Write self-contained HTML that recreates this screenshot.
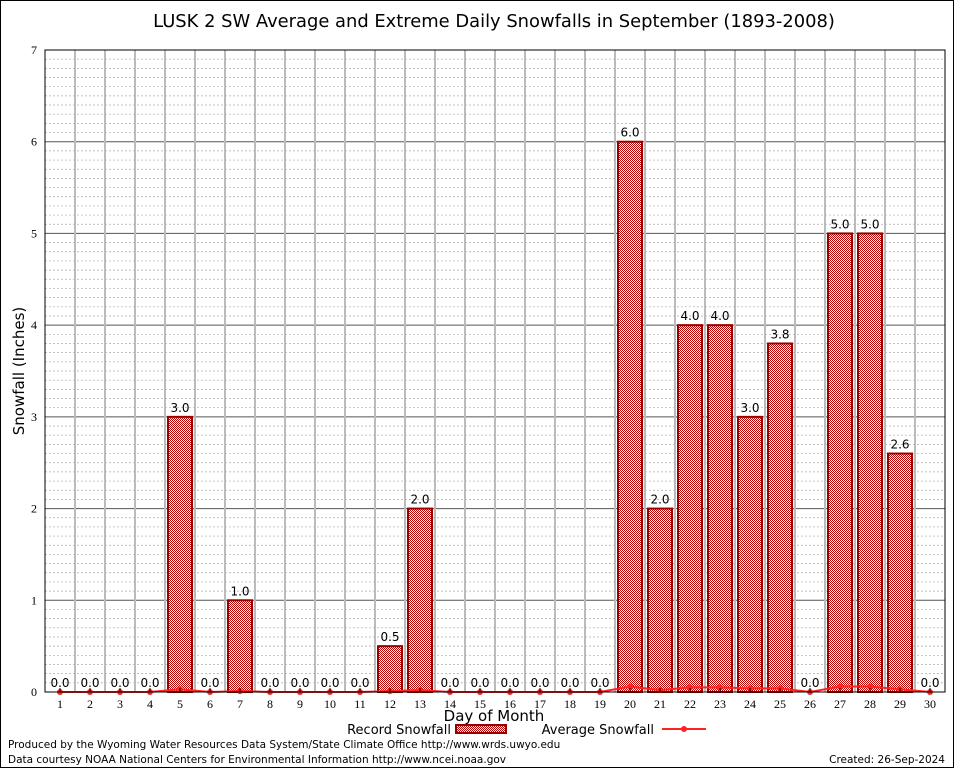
<!DOCTYPE html>
<html><head><meta charset="utf-8"><style>
body{margin:0;background:#fff;font-family:"DejaVu Sans","Liberation Sans",sans-serif}
</style></head><body>
<svg id="c" width="954" height="768" xmlns="http://www.w3.org/2000/svg">
<defs><pattern id="p" width="2" height="2" patternUnits="userSpaceOnUse"><rect width="2" height="2" fill="#fff"/><rect width="1" height="1" fill="#b00"/><rect x="1" y="1" width="1" height="1" fill="#b00"/></pattern></defs>
<rect x="0.5" y="0.5" width="953" height="767" fill="#fff" stroke="#000"/>
<text x="494" y="27" font-size="17.9" text-anchor="middle" font-family="DejaVu Sans, sans-serif">LUSK 2 SW Average and Extreme Daily Snowfalls in September (1893-2008)</text>
<g id="grid"></g><g id="bars"></g><g id="avg"></g><g id="axes"></g>
<text x="24" y="371" font-size="15" text-anchor="middle" transform="rotate(-90 24 371)">Snowfall (Inches)</text>
<text x="494" y="721" font-size="15" text-anchor="middle">Day of Month</text>
<g>
<text x="451" y="734" font-size="13" text-anchor="end">Record Snowfall</text>
<rect x="456" y="725" width="50" height="8" fill="url(#p)" stroke="#900" stroke-width="2"/>
<text x="654" y="734" font-size="13" text-anchor="end">Average Snowfall</text>
<line x1="662" y1="729" x2="706" y2="729" stroke="#f22" stroke-width="2"/>
<circle cx="684" cy="729" r="3" fill="#f22"/>
</g>
<text x="8" y="748" font-size="10.5">Produced by the Wyoming Water Resources Data System/State Climate Office http://www.wrds.uwyo.edu</text>
<text x="8" y="763" font-size="10.5">Data courtesy NOAA National Centers for Environmental Information http://www.ncei.noaa.gov</text>
<text x="945" y="763" font-size="10.5" text-anchor="end">Created: 26-Sep-2024</text>
</svg>
<script>
const days=[1,2,3,4,5,6,7,8,9,10,11,12,13,14,15,16,17,18,19,20,21,22,23,24,25,26,27,28,29,30];
const records=[0,0,0,0,3.0,0,1.0,0,0,0,0,0.5,2.0,0,0,0,0,0,0,6.0,2.0,4.0,4.0,3.0,3.8,0,5.0,5.0,2.6,0];
const averages=[0,0,0,0,0.03,0,0.01,0,0,0,0,0.01,0.02,0,0,0,0,0,0,0.06,0.02,0.05,0.05,0.04,0.04,0,0.06,0.06,0.03,0];
const yTicks=[0,1,2,3,4,5,6,7];
const L=45,R=945,T=50,B=692,ymax=7;
const sx=d=>L+(d-0.5)*(R-L)/days.length;
const sy=v=>B-v*(B-T)/ymax;
const NS='http://www.w3.org/2000/svg';
function mk(p,t,a){const e=document.createElementNS(NS,t);for(const k in a)e.setAttribute(k,a[k]);document.getElementById(p).appendChild(e);return e;}
const slot=(R-L)/days.length;
for(let i=1;i<ymax*10;i++){if(i%10==0)continue;const e=mk('grid','line',{x1:L,x2:R,y1:sy(i/10),y2:sy(i/10),stroke:'#aaa','stroke-dasharray':'2,2','stroke-width':0.7});

}
yTicks.forEach(v=>{const e=mk('grid','line',{x1:L,x2:R,y1:sy(v),y2:sy(v),stroke:'#555','stroke-width':1});


const t=mk('axes','text',{x:L-8,y:sy(v)+4,'font-size':12,'text-anchor':'end','font-family':'Liberation Serif,serif'});t.textContent=v;

});
for(let i=1;i<days.length;i++){const e=mk('grid','line',{x1:L+i*slot,x2:L+i*slot,y1:T,y2:B,stroke:'#bbb','stroke-width':2});

}
days.forEach((d,i)=>{const v=records[i];
if(v>0){const r=mk('bars','rect',{x:sx(d)-12,y:sy(v),width:24,height:B-sy(v),fill:'url(#p)',stroke:'#900','stroke-width':2});

}
const t=mk('bars','text',{x:sx(d),y:sy(v)-5,'font-size':12,'text-anchor':'middle'});t.textContent=v.toFixed(1);


const xt=mk('axes','text',{x:sx(d),y:B+16,'font-size':12,'text-anchor':'middle','font-family':'Liberation Serif,serif'});xt.textContent=d;


const tk=mk('axes','line',{x1:sx(d),x2:sx(d),y1:B,y2:B-4,stroke:'#000'});

});
const pl=mk('avg','polyline',{points:days.map((d,i)=>sx(d)+','+sy(averages[i])).join(' '),fill:'none',stroke:'#f22','stroke-width':2});


days.forEach((d,i)=>{const c=mk('avg','circle',{cx:sx(d),cy:sy(averages[i]),r:3,fill:'#f22'});

});
const fr=mk('axes','rect',{x:L,y:T,width:R-L,height:B-T,fill:'none',stroke:'#000','stroke-width':1});


</script>
</body></html>
